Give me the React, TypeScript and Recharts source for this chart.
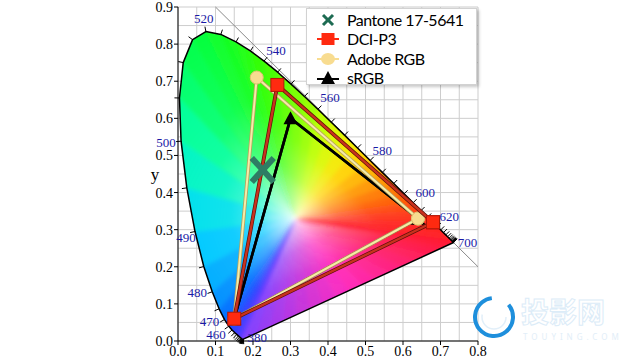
import React from 'react';
import { ScatterChart, Scatter, XAxis, YAxis, CartesianGrid } from 'recharts';

// CIE 1931 spectral locus, 5 nm steps
const WAVELENGTHS = [
  380, 385, 390, 395, 400, 405, 410, 415, 420, 425, 430, 435, 440, 445, 450, 455,
  460, 465, 470, 475, 480, 485, 490, 495, 500, 505, 510, 515, 520, 525, 530, 535,
  540, 545, 550, 555, 560, 565, 570, 575, 580, 585, 590, 595, 600, 605, 610, 615,
  620, 625, 630, 635, 640, 645, 650, 655, 660, 665, 670, 675, 680, 685, 690, 695, 700,
];
const LOCUS_X = [
  0.1741, 0.174, 0.1738, 0.1736, 0.1733, 0.173, 0.1726, 0.1721, 0.1714, 0.1703, 0.1689, 0.1669, 0.1644, 0.1611, 0.1566, 0.151,
  0.144, 0.1355, 0.1241, 0.1096, 0.0913, 0.0687, 0.0454, 0.0235, 0.0082, 0.0039, 0.0139, 0.0389, 0.0743, 0.1142, 0.1547, 0.1929,
  0.2296, 0.2658, 0.3016, 0.3373, 0.3731, 0.4087, 0.4441, 0.4788, 0.5125, 0.5448, 0.5752, 0.6029, 0.627, 0.6482, 0.6658, 0.6801,
  0.6915, 0.7006, 0.7079, 0.714, 0.719, 0.723, 0.726, 0.7283, 0.73, 0.7311, 0.732, 0.7327, 0.7334, 0.734, 0.7344, 0.7346, 0.7347,
];
const LOCUS_Y = [
  0.005, 0.005, 0.0049, 0.0049, 0.0048, 0.0048, 0.0048, 0.0048, 0.0051, 0.0058, 0.0069, 0.0086, 0.0109, 0.0138, 0.0177, 0.0227,
  0.0297, 0.0399, 0.0578, 0.0868, 0.1327, 0.2007, 0.295, 0.4127, 0.5384, 0.6548, 0.7502, 0.812, 0.8338, 0.8262, 0.8059, 0.7816,
  0.7543, 0.7243, 0.6923, 0.6589, 0.6245, 0.5896, 0.5547, 0.5202, 0.4866, 0.4544, 0.4242, 0.3965, 0.3725, 0.3514, 0.334, 0.3197,
  0.3083, 0.2993, 0.292, 0.2859, 0.2809, 0.277, 0.274, 0.2717, 0.27, 0.2689, 0.268, 0.2673, 0.2666, 0.266, 0.2656, 0.2654, 0.2653,
];
const LOCUS_LABELS = [380, 460, 470, 480, 490, 500, 520, 540, 560, 580, 600, 620, 700];
const WHITE_POINT = { x: 0.3127, y: 0.329 };

const DIAGONAL = [{ x: 0.1, y: 0.9 }, { x: 0.8, y: 0.2 }];
const DCI_P3 = [{ x: 0.68, y: 0.32 }, { x: 0.265, y: 0.69 }, { x: 0.15, y: 0.06 }];
const ADOBE_RGB = [{ x: 0.64, y: 0.33 }, { x: 0.21, y: 0.71 }, { x: 0.15, y: 0.06 }];
const SRGB = [{ x: 0.64, y: 0.33 }, { x: 0.3, y: 0.6 }, { x: 0.15, y: 0.06 }];
const PANTONE = [{ x: 0.226, y: 0.461 }];

const X_TICKS = [0, 0.05, 0.1, 0.15, 0.2, 0.25, 0.3, 0.35, 0.4, 0.45, 0.5, 0.55, 0.6, 0.65, 0.7, 0.75, 0.8];
const Y_TICKS = [0, 0.05, 0.1, 0.15, 0.2, 0.25, 0.3, 0.35, 0.4, 0.45, 0.5, 0.55, 0.6, 0.65, 0.7, 0.75, 0.8, 0.85, 0.9];

const LEGEND_NAMES = ['Pantone 17-5641', 'DCI-P3', 'Adobe RGB', 'sRGB'];

// label placement relative to the locus point (px)
const LABEL_OFFSET: Record<number, [number, number]> = {
  380: [14, -2], 460: [-16, 5], 470: [-15, 2], 480: [-15, 1], 490: [-9, 6], 500: [-15, 1],
  520: [-2, -13], 540: [12, -11], 560: [12, -12], 580: [12, -10], 600: [12, -10], 620: [12, -10], 700: [14, 0],
};

const SPECTRAL_STOPS: [number, number[]][] = [
  [380, [125, 60, 255]], [440, [85, 50, 255]], [460, [35, 60, 255]], [470, [0, 100, 255]],
  [480, [0, 160, 255]], [490, [0, 215, 255]], [500, [0, 255, 175]], [510, [0, 255, 85]],
  [525, [10, 255, 35]], [540, [55, 255, 0]], [555, [135, 255, 0]], [565, [205, 255, 0]],
  [575, [255, 225, 0]], [585, [255, 165, 0]], [595, [255, 105, 0]], [605, [255, 60, 20]],
  [620, [255, 30, 30]], [700, [255, 20, 45]],
];
const PURPLE_STOPS: [number, number[]][] = [[0, [255, 20, 45]], [0.5, [255, 40, 190]], [1, [125, 60, 255]]];

const lerpStops = (stops: [number, number[]][], v: number) => {
  for (let i = 0; i < stops.length - 1; i++) {
    const [a, ca] = stops[i];
    const [b, cb] = stops[i + 1];
    if (v <= b) {
      const t = Math.max(0, (v - a) / (b - a));
      const c = ca.map((ch, k) => Math.round(ch + (cb[k] - ch) * t));
      return `rgb(${c[0]},${c[1]},${c[2]})`;
    }
  }
  const c = stops[stops.length - 1][1];
  return `rgb(${c[0]},${c[1]},${c[2]})`;
};

const SERIF = '"Liberation Serif", "Times New Roman", serif';

const renderLocus = (props: any) => {
  const pts: { x: number; y: number }[] = props.points || [];
  const n = pts.length;
  if (n < 2) return <g />;
  // pixel mapping taken from the scaled locus points (380 nm and 520 nm)
  const a = 0;
  const b = WAVELENGTHS.indexOf(520);
  const sx = (pts[b].x - pts[a].x) / (LOCUS_X[b] - LOCUS_X[a]);
  const sy = (pts[b].y - pts[a].y) / (LOCUS_Y[b] - LOCUS_Y[a]);
  const w = { x: pts[a].x + (WHITE_POINT.x - LOCUS_X[a]) * sx, y: pts[a].y + (WHITE_POINT.y - LOCUS_Y[a]) * sy };
  const grow = (p: { x: number; y: number }) => ({ x: w.x + (p.x - w.x) * 1.12, y: w.y + (p.y - w.y) * 1.12 });

  const segs: { p: { x: number; y: number }; q: { x: number; y: number }; color: string }[] = [];
  for (let i = 0; i < n - 1; i++) {
    const p = pts[i], q = pts[i + 1];
    if (Math.hypot(q.x - p.x, q.y - p.y) < 0.2) continue;
    segs.push({ p: grow(p), q: grow(q), color: lerpStops(SPECTRAL_STOPS, WAVELENGTHS[i] + 2.5) });
  }
  const K = 16;
  const end = pts[n - 1], start = pts[0];
  for (let k = 0; k < K; k++) {
    const t0 = k / K, t1 = (k + 1) / K;
    segs.push({
      p: grow({ x: end.x + (start.x - end.x) * t0, y: end.y + (start.y - end.y) * t0 }),
      q: grow({ x: end.x + (start.x - end.x) * t1, y: end.y + (start.y - end.y) * t1 }),
      color: lerpStops(PURPLE_STOPS, (k + 0.5) / K),
    });
  }

  const poly = pts.map((p) => `${p.x},${p.y}`).join(' ');

  const ticks = pts.map((p, i) => {
    let k = 1;
    let tx = 0, ty = 0;
    while (k < 8) {
      const p1 = pts[Math.min(n - 1, i + k)], p0 = pts[Math.max(0, i - k)];
      tx = p1.x - p0.x; ty = p1.y - p0.y;
      if (Math.hypot(tx, ty) > 3) break;
      k++;
    }
    const len = Math.hypot(tx, ty) || 1;
    let nx = ty / len, ny = -tx / len;
    if (nx * (p.x - w.x) + ny * (p.y - w.y) < 0) { nx = -nx; ny = -ny; }
    const L = 5;
    return <line key={`t${i}`} x1={p.x} y1={p.y} x2={p.x + nx * L} y2={p.y + ny * L} stroke="#000" strokeWidth={1} />;
  });

  const labels = LOCUS_LABELS.map((wl) => {
    const i = WAVELENGTHS.indexOf(wl);
    const [dx, dy] = LABEL_OFFSET[wl] || [0, 0];
    return (
      <text key={`l${wl}`} x={pts[i].x + dx} y={pts[i].y + dy} textAnchor="middle" dominantBaseline="central"
        fontFamily={SERIF} fontSize={13} fill="#1a1aa6">{wl}</text>
    );
  });

  return (
    <g>
      <defs>
        <clipPath id="locusClip"><polygon points={poly} /></clipPath>
        <filter id="soft" x="-10%" y="-10%" width="120%" height="120%">
          <feGaussianBlur stdDeviation={2.2} />
        </filter>
        {segs.map((s, i) => {
          const mx = (s.p.x + s.q.x) / 2, my = (s.p.y + s.q.y) / 2;
          return (
            <linearGradient key={i} id={`lg${i}`} gradientUnits="userSpaceOnUse" x1={w.x} y1={w.y} x2={mx} y2={my}>
              <stop offset="0" stopColor={s.color} stopOpacity={0} />
              <stop offset="0.1" stopColor={s.color} stopOpacity={0.25} />
              <stop offset="0.3" stopColor={s.color} stopOpacity={0.68} />
              <stop offset="0.55" stopColor={s.color} stopOpacity={0.93} />
              <stop offset="1" stopColor={s.color} stopOpacity={1} />
            </linearGradient>
          );
        })}
      </defs>
      <polygon points={poly} fill="#fff" />
      <g clipPath="url(#locusClip)">
        <g filter="url(#soft)">
          {segs.map((s, i) => (
            <polygon key={i} points={`${w.x},${w.y} ${s.p.x},${s.p.y} ${s.q.x},${s.q.y}`}
              fill={`url(#lg${i})`} stroke={`url(#lg${i})`} strokeWidth={0.6} />
          ))}
        </g>
      </g>
      <polygon points={poly} fill="none" stroke="#000" strokeWidth={1.5} strokeLinejoin="round" />
      {ticks}
      {labels}
    </g>
  );
};

const gamutLine = (under: string, over: string, wu: number, wo: number) => (props: any) => {
  const pts: { x: number; y: number }[] = props.points || [];
  const s = pts.map((p) => `${p.x},${p.y}`).join(' ');
  return (
    <g>
      <polyline points={s} fill="none" stroke={under} strokeWidth={wu} strokeLinejoin="miter" />
      <polyline points={s} fill="none" stroke={over} strokeWidth={wo} strokeLinejoin="miter" />
    </g>
  );
};

const noDot = () => <g />;
const squareDot = (p: any) => <rect x={p.cx - 6.5} y={p.cy - 6.5} width={13} height={13} fill="#ff2a10" stroke="#b01808" strokeWidth={1} />;
const circleDot = (p: any) => <circle cx={p.cx} cy={p.cy} r={6.5} fill="#f8dc90" stroke="#e2c070" strokeWidth={1} />;
const triangleDot = (p: any) => <polygon points={`${p.cx},${p.cy - 7} ${p.cx - 7},${p.cy + 6} ${p.cx + 7},${p.cy + 6}`} fill="#000" />;
const crossDot = (p: any) => (
  <g stroke="#2e7d64" strokeWidth={6}>
    <line x1={p.cx - 11} y1={p.cy - 12} x2={p.cx + 11} y2={p.cy + 12} />
    <line x1={p.cx + 11} y1={p.cy - 12} x2={p.cx - 11} y2={p.cy + 12} />
  </g>
);

const isMajor = (v: number) => Math.abs(Math.round(v * 10) - v * 10) < 1e-6;

const XTick = ({ x, y, payload }: any) => {
  if (!isMajor(payload.value)) return <g />;
  return (
    <g>
      <line x1={x} x2={x} y1={y} y2={y + 4} stroke="#000" />
      <text x={x} y={y + 15} textAnchor="middle" fontFamily={SERIF} fontSize={14} fill="#000">{payload.value.toFixed(1)}</text>
    </g>
  );
};

const YTick = ({ x, y, payload }: any) => {
  if (!isMajor(payload.value)) return <g />;
  return (
    <g>
      <line x1={x - 4} x2={x} y1={y} y2={y} stroke="#000" />
      <text x={x - 5} y={y + 5} textAnchor="end" fontFamily={SERIF} fontSize={14} fill="#000">{payload.value.toFixed(1)}</text>
    </g>
  );
};

const legendIcons = [
  <g stroke="#1d6b52" strokeWidth={3}><line x1={-5} y1={-5} x2={5} y2={5} /><line x1={5} y1={-5} x2={-5} y2={5} /></g>,
  <g><rect x={-6.5} y={-6} width={13} height={12} fill="#ff2a10" /><line x1={-11} x2={11} y1={0} y2={0} stroke="#ff2a10" strokeWidth={2} /></g>,
  <g><ellipse cx={0} cy={0} rx={7} ry={6} fill="#f8dc90" /><line x1={-11} x2={11} y1={0} y2={0} stroke="#f8dc90" strokeWidth={2} /></g>,
  <g><polygon points="0,-7 -7,6 7,6" fill="#000" /><line x1={-11} x2={11} y1={1} y2={1} stroke="#000" strokeWidth={2} /></g>,
];

export default function App() {
  return (
    <div style={{ position: 'fixed', left: 0, top: 0, width: 640, height: 360, background: '#fff' }}>
      <ScatterChart width={640} height={360} margin={{ top: 7, right: 162, bottom: 0, left: 138 }}>
        <CartesianGrid stroke="#cdcdcd" strokeWidth={1} />
        <XAxis type="number" dataKey="x" domain={[0, 0.8]} ticks={X_TICKS} interval={0} height={19}
          tick={<XTick />} tickLine={false} tickSize={0} tickMargin={0} axisLine={{ stroke: '#000' }} />
        <YAxis type="number" dataKey="y" domain={[0, 0.9]} ticks={Y_TICKS} interval={0} width={40}
          tick={<YTick />} tickLine={false} tickSize={0} tickMargin={0} axisLine={{ stroke: '#000' }}
          label={{ value: 'y', position: 'center', dx: -3, fontFamily: SERIF, fontSize: 17, fill: '#000' }} />
        <Scatter data={DIAGONAL} line={{ stroke: '#8a8a8a', strokeWidth: 1 }} shape={noDot} isAnimationActive={false} />
        <Scatter data={WAVELENGTHS.map((wl, i) => ({ wl, x: LOCUS_X[i], y: LOCUS_Y[i] }))} line={renderLocus} shape={noDot} isAnimationActive={false} />
        <Scatter data={[...SRGB, SRGB[0]]} line={gamutLine('#000', '#000', 2.6, 2.6)} shape={triangleDot} isAnimationActive={false} />
        <Scatter data={[...ADOBE_RGB, ADOBE_RGB[0]]} line={gamutLine('#b9a25e', '#f6eca8', 3.6, 2)} shape={circleDot} isAnimationActive={false} />
        <Scatter data={[...DCI_P3, DCI_P3[0]]} line={gamutLine('#5e1208', '#c8321e', 3.8, 2.4)} shape={squareDot} isAnimationActive={false} />
        <Scatter data={PANTONE} shape={crossDot} isAnimationActive={false} />
      </ScatterChart>

      <div style={{
        position: 'absolute', left: 306, top: 8, width: 171, height: 77, background: '#fff',
        border: '1px solid #d2d2d2', boxShadow: '2px 2px 3px rgba(0,0,0,0.22)', boxSizing: 'border-box',
      }}>
        {LEGEND_NAMES.map((name, i) => (
          <div key={name} style={{ position: 'absolute', left: 0, top: 1 + i * 19.4, height: 19.4, width: '100%' }}>
            <svg width={40} height={20} style={{ position: 'absolute', left: 1, top: 0 }}>
              <g transform="translate(20,10)">{legendIcons[i]}</g>
            </svg>
            <span style={{
              position: 'absolute', left: 40, top: 0, lineHeight: '19.4px', fontFamily: 'Lato, "Open Sans", sans-serif',
              fontSize: 16, letterSpacing: -0.5, color: '#000', whiteSpace: 'nowrap',
            }}>{name}</span>
          </div>
        ))}
      </div>

      <svg width={640} height={360} style={{ position: 'absolute', left: 0, top: 0, pointerEvents: 'none' }}>
        <circle cx={494} cy={317} r={19} fill="none" stroke="#1e8fdc" strokeWidth={4}
          strokeDasharray="100 19.4" transform="rotate(-40 494 317)" />
        <circle cx={494} cy={317} r={12} fill="none" stroke="#e2eff9" strokeWidth={1.5} strokeDasharray="40 35" />
        <text x={521} y={323} fontFamily='"Noto Sans CJK SC", sans-serif' fontSize={28} fontWeight={700}
          fill="none" stroke="#dcecf8" strokeWidth={1}>投影网</text>
        <text x={523} y={340} fontFamily='"Noto Sans", sans-serif' fontSize={8} letterSpacing={4} fill="#e2eef8">TOUYING.COM</text>
      </svg>
    </div>
  );
}
